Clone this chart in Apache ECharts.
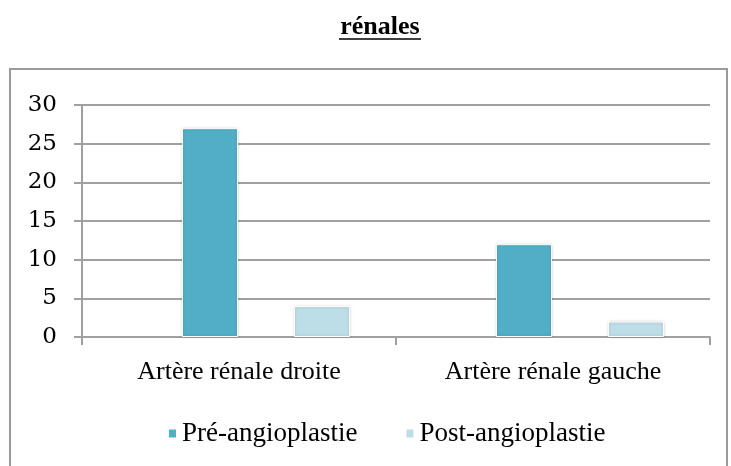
<!DOCTYPE html>
<html>
<head>
<meta charset="utf-8">
<script src="https://cdn.jsdelivr.net/npm/echarts@6/dist/echarts.min.js"></script>
<style>
  html, body { margin: 0; padding: 0; background: #fff; }
  #chart { width: 731px; height: 466px; }
</style>
</head>
<body>
<div id="chart"></div>
<script>
var titleText = 'rénales'
var categories = ['Artère rénale droite', 'Artère rénale gauche']
var preValues = [27, 12]
var postValues = [4, 2]
var seriesNames = ['Pré-angioplastie', 'Post-angioplastie']

var serif = 'Liberation Serif'
var gridColor = '#a0a0a0'

var chart = echarts.init(document.getElementById('chart'))

var barStyle = function (color) {
  return {
    color: color,
    borderColor: '#fff',
    borderWidth: 1,
    shadowColor: 'rgba(0,0,0,0.18)',
    shadowBlur: 3
  }
}

var option = {
  animation: false,
  textStyle: { fontFamily: serif },
  graphic: [
    {
      type: 'text',
      x: 380,
      y: 14,
      style: {
        text: titleText,
        font: 'bold 26px "Liberation Serif"',
        fill: '#000',
        align: 'center'
      }
    },
    {
      type: 'line',
      shape: { x1: 339, y1: 39, x2: 421, y2: 39 },
      style: { stroke: '#000', lineWidth: 1.5 }
    },
    {
      type: 'rect',
      shape: { x: 10, y: 69, width: 717, height: 420 },
      style: { fill: 'none', stroke: '#9a9a9a', lineWidth: 2 }
    }
  ],
  legend: {
    data: seriesNames,
    top: 415,
    left: 162,
    itemWidth: 9,
    itemHeight: 10,
    itemGap: 47,
    icon: 'rect',
    textStyle: {
      fontFamily: serif,
      fontSize: 27,
      color: '#000'
    }
  },
  grid: {
    left: 82,
    right: 21,
    top: 105,
    bottom: 129
  },
  xAxis: {
    type: 'category',
    data: categories,
    axisLine: { lineStyle: { color: gridColor, width: 2 } },
    axisTick: { show: true, length: 8, lineStyle: { color: gridColor, width: 2 } },
    axisLabel: { margin: 22, fontFamily: serif, fontSize: 26, color: '#000' }
  },
  yAxis: {
    type: 'value',
    min: 0,
    max: 30,
    interval: 5,
    axisLine: { show: true, lineStyle: { color: gridColor, width: 2 } },
    axisTick: { show: true, length: 8, lineStyle: { color: gridColor, width: 2 } },
    splitLine: { lineStyle: { color: gridColor, width: 2 } },
    axisLabel: { margin: 25, fontFamily: 'DejaVu Serif', fontSize: 23, color: '#000' }
  },
  series: [
    {
      // empty spacer so the pair of bars sits like in the original
      name: 'spacer',
      type: 'bar',
      barWidth: 27,
      barGap: '100%',
      data: ['-', '-']
    },
    {
      name: seriesNames[0],
      type: 'bar',
      barWidth: 56,
      barGap: '100%',
      itemStyle: barStyle('#52aec6'),
      data: preValues
    },
    {
      name: seriesNames[1],
      type: 'bar',
      barWidth: 56,
      barGap: '100%',
      itemStyle: barStyle('#bddde7'),
      data: postValues
    }
  ]
}

chart.setOption(option)
</script>
</body>
</html>
